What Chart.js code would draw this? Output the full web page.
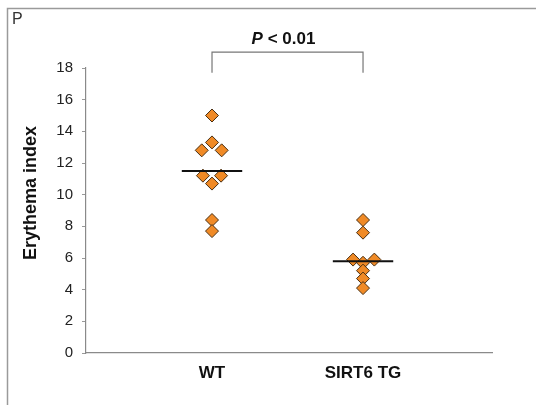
<!DOCTYPE html>
<html>
<head>
<meta charset="utf-8">
<script src="https://cdn.jsdelivr.net/npm/chart.js@4"></script>
<style>
  html, body { margin: 0; padding: 0; background: #fff; }
  #wrap { width: 536px; height: 405px; position: relative; }
</style>
</head>
<body>
<div id="wrap"><canvas id="chart"></canvas></div>
<script>
// groups and their positions on the x axis
const groups = ["WT", "SIRT6 TG"];
const groupPos = [1, 2];

// individual values
const wtValues = [15.0, 13.3, 12.8, 12.8, 11.2, 11.2, 10.7, 8.4, 7.7];
const wtJitter = [0, 0, -0.068, 0.064, -0.06, 0.06, 0, 0, 0];
const tgValues = [8.4, 7.6, 5.9, 5.9, 5.7, 5.2, 4.7, 4.1];
const tgJitter = [0, 0, -0.066, 0.075, 0, 0, 0, 0];

// group means (horizontal bars)
const means = [11.5, 5.8];

const yTicks = [0, 2, 4, 6, 8, 10, 12, 14, 16, 18];
const yTitle = "Erythema index";
const pText = "< 0.01";

const FONT = "'Liberation Sans', Arial, sans-serif";

function pts(vals, jit, pos) {
    return vals.map((v, i) => ({ x: pos + jit[i], y: v }));
}

function meanLine(i) {
    return [{ x: groupPos[i] - 0.2, y: means[i] }, { x: groupPos[i] + 0.2, y: means[i] }];
}

// frame, corner label, axis title, significance bracket
const extras = {
    id: "extras",
    beforeDraw(chart) {
        const ctx = chart.ctx;
        ctx.save();
        ctx.fillStyle = "#fff";
        ctx.fillRect(0, 0, chart.width, chart.height);
        ctx.strokeStyle = "#9a9a9a";
        ctx.lineWidth = 1.5;
        ctx.strokeRect(7.5, 8.5, chart.width + 10, chart.height + 10);
        ctx.fillStyle = "#333";
        ctx.font = "16px " + FONT;
        ctx.textBaseline = "middle";
        ctx.fillText("P", 12, 20);

        // y axis title
        ctx.translate(31, 193);
        ctx.rotate(-Math.PI / 2);
        ctx.textAlign = "center";
        ctx.fillStyle = "#111";
        ctx.font = "bold 18px " + FONT;
        ctx.fillText(yTitle, 0, 0);
        ctx.restore();
    },
    afterDraw(chart) {
        const ctx = chart.ctx;
        const x = chart.scales.x, y = chart.scales.y;
        const x1 = x.getPixelForValue(groupPos[0]);
        const x2 = x.getPixelForValue(groupPos[1]);
        const yTop = y.getPixelForValue(19.0);
        const yBot = y.getPixelForValue(17.7);
        ctx.save();
        ctx.strokeStyle = "#777";
        ctx.lineWidth = 1.2;
        ctx.beginPath();
        ctx.moveTo(x1, yBot);
        ctx.lineTo(x1, yTop);
        ctx.lineTo(x2, yTop);
        ctx.lineTo(x2, yBot);
        ctx.stroke();

        ctx.fillStyle = "#111";
        ctx.textBaseline = "middle";
        const f1 = "italic bold 17px " + FONT;
        const f2 = "bold 17px " + FONT;
        ctx.font = f1;
        const w1 = ctx.measureText("P").width;
        ctx.font = f2;
        const w2 = ctx.measureText(" " + pText).width;
        const cx = (x1 + x2) / 2 - 4;
        const start = cx - (w1 + w2) / 2;
        const ty = yTop - 13;
        ctx.font = f1;
        ctx.fillText("P", start, ty);
        ctx.font = f2;
        ctx.fillText(" " + pText, start + w1, ty);
        ctx.restore();
    }
};

const diamond = {
    pointStyle: "rectRot",
    pointRadius: 6.5,
    pointHoverRadius: 6.5,
    backgroundColor: "#f08a26",
    borderColor: "#4a2f12",
    borderWidth: 1,
    showLine: false
};

const meanStyle = {
    borderColor: "#111",
    borderWidth: 2,
    pointRadius: 0,
    showLine: true,
    fill: false
};

new Chart(document.getElementById("chart"), {
    type: "scatter",
    data: {
        datasets: [
            Object.assign({ label: "WT mean", data: meanLine(0) }, meanStyle),
            Object.assign({ label: "TG mean", data: meanLine(1) }, meanStyle),
            Object.assign({ label: groups[0], data: pts(wtValues, wtJitter, groupPos[0]) }, diamond),
            Object.assign({ label: groups[1], data: pts(tgValues, tgJitter, groupPos[1]) }, diamond)
        ]
    },
    options: {
        responsive: true,
        maintainAspectRatio: false,
        animation: false,
        layout: { padding: { top: 68, right: 44, left: 0, bottom: 0 } },
        plugins: {
            legend: { display: false },
            tooltip: { enabled: false }
        },
        scales: {
            x: {
                type: "linear",
                min: 0.1656,
                max: 2.854,
                afterBuildTicks(s) { s.ticks = groupPos.map(v => ({ value: v })); },
                afterFit(s) { s.height = 52; },
                grid: { display: false, drawTicks: false },
                border: { color: "#8a8a8a", width: 1.2 },
                ticks: {
                    padding: 10,
                    color: "#111",
                    font: { family: FONT, size: 17, weight: "bold" },
                    callback: (v) => groups[groupPos.indexOf(v)] || ""
                }
            },
            y: {
                min: 0,
                max: 18,
                afterBuildTicks(s) { s.ticks = yTicks.map(v => ({ value: v })); },
                afterFit(s) { s.width = 86; },
                grid: { drawOnChartArea: false, tickLength: 4, color: "#999" },
                border: { color: "#8a8a8a", width: 1.2 },
                ticks: {
                    padding: 9,
                    color: "#222",
                    font: { family: FONT, size: 15 }
                }
            }
        }
    },
    plugins: [extras]
});
</script>
</body>
</html>
